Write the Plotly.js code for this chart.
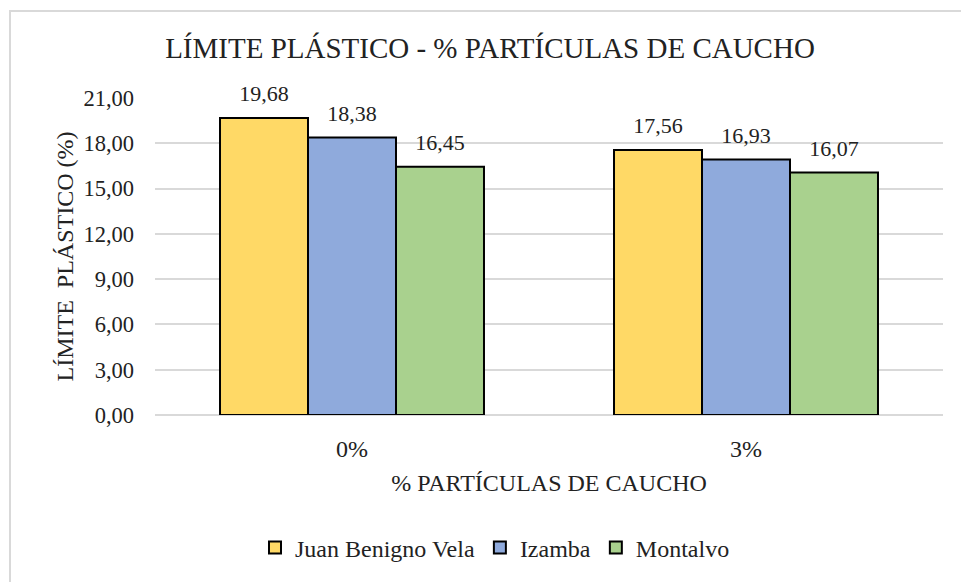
<!DOCTYPE html>
<html>
<head>
<meta charset="utf-8">
<script src="https://cdn.plot.ly/plotly-3.0.1.min.js"></script>
<style>
  html, body { margin: 0; padding: 0; background: #ffffff; overflow: hidden; }
  #frame {
    position: absolute; left: 9px; top: 10px; width: 1200px; height: 900px;
    border: 2px solid #d9d9d9; box-sizing: border-box;
  }
  #chart { position: absolute; left: 0; top: 0; width: 961px; height: 582px; }
</style>
</head>
<body>
<div id="frame"></div>
<div id="chart"></div>
<script>
// Plastic limit (%) by rubber particle content, for three sampling sites
const categories = ['0%', '3%'];
const seriesNames = ['Juan Benigno Vela', 'Izamba', 'Montalvo'];
const juanBenignoVela = [19.68, 17.56];
const izamba = [18.38, 16.93];
const montalvo = [16.45, 16.07];
const yTicks = [0, 3, 6, 9, 12, 15, 18, 21];

const seriesValues = [juanBenignoVela, izamba, montalvo];
const fills = ['#FFD966', '#8FAADC', '#A9D18E'];
const serif = 'Liberation Serif, Times New Roman, serif';
const ink = '#222222';

const traces = [];
seriesValues.forEach((vals, i) => {
  traces.push({
    type: 'bar',
    name: seriesNames[i],
    x: categories,
    y: vals,
    offsetgroup: 'g' + i,
    alignmentgroup: 'all',
    marker: { color: fills[i], line: { color: '#000000', width: 2 } },
    hoverinfo: 'x+y+name'
  });
});
// value labels sitting above each bar
seriesValues.forEach((vals, i) => {
  traces.push({
    type: 'scatter',
    mode: 'markers+text',
    x: categories,
    y: vals,
    offsetgroup: 'g' + i,
    alignmentgroup: 'all',
    text: vals.map(v => v.toFixed(2).replace('.', ',')),
    textposition: 'top center',
    textfont: { family: serif, size: 22, color: ink },
    marker: { size: 16, opacity: 0 },
    showlegend: false,
    hoverinfo: 'skip',
    cliponaxis: false
  });
});

const layout = {
  width: 961,
  height: 582,
  paper_bgcolor: 'rgba(0,0,0,0)',
  plot_bgcolor: 'rgba(0,0,0,0)',
  margin: { l: 155, r: 18, t: 98, b: 162 },
  separators: ',.',
  barmode: 'group',
  bargap: 0.33,
  bargroupgap: 0,
  scattermode: 'group',
  scattergap: 0.33,
  font: { family: serif, color: ink },
  title: {
    text: 'LÍMITE PLÁSTICO - % PARTÍCULAS DE CAUCHO',
    font: { family: serif, size: 29, color: ink },
    x: 490 / 961, xanchor: 'center', xref: 'container',
    y: 1 - 48 / 582, yanchor: 'middle', yref: 'container'
  },
  xaxis: {
    type: 'category',
    tickfont: { family: serif, size: 24, color: ink },
    showgrid: false,
    showline: false,
    zeroline: false,
    ticks: '',
    ticklabelstandoff: 17,
    title: {
      text: '% PARTÍCULAS DE CAUCHO',
      font: { family: serif, size: 24, color: ink },
      standoff: 13
    }
  },
  yaxis: {
    range: [0, 21],
    tickvals: yTicks,
    tickformat: '.2f',
    tickfont: { family: serif, size: 22.5, color: ink },
    showgrid: true,
    gridcolor: '#d9d9d9',
    gridwidth: 2,
    zeroline: true,
    zerolinecolor: '#d9d9d9',
    zerolinewidth: 2,
    showline: false,
    ticks: '',
    ticklabelstandoff: 20,
    title: {
      text: 'LÍMITE\u00a0\u00a0PLÁSTICO (%)',
      font: { family: serif, size: 24, color: ink },
      standoff: 2
    }
  },
  legend: {
    orientation: 'h',
    x: (495 - 155) / 788,
    xanchor: 'center',
    y: -135 / 322,
    yanchor: 'middle',
    font: { family: serif, size: 24, color: ink },
    bgcolor: 'rgba(0,0,0,0)',
    itemwidth: 30,
    traceorder: 'normal'
  },
  showlegend: true
};

Plotly.newPlot('chart', traces, layout, { displayModeBar: false, staticPlot: true });
</script>
</body>
</html>
